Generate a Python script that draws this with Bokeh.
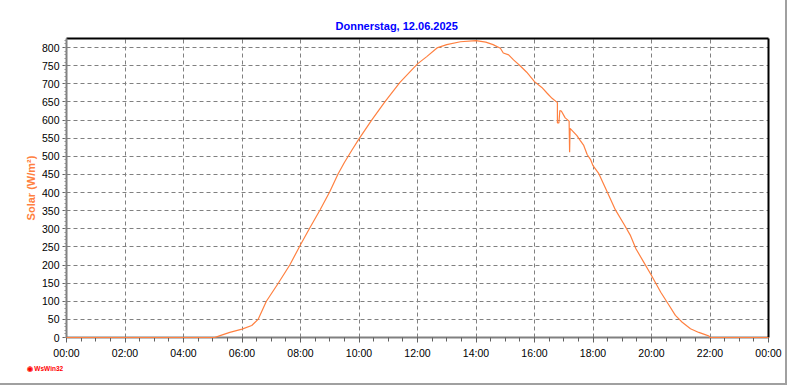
from bokeh.plotting import figure
from bokeh.models import Range1d, FixedTicker, Title, LinearAxis
from bokeh.embed import file_html
from bokeh.resources import INLINE

# ---- data ----
times = ["00:00", "05:04", "05:15", "05:35", "06:00", "06:20", "06:33", "06:50",
         "07:15", "07:38", "08:00", "08:19", "08:40", "09:00", "09:17", "09:30",
         "09:45", "10:00", "10:26", "10:53", "11:24", "12:00", "12:19", "12:40",
         "13:00", "13:28", "14:00", "14:20", "14:35", "14:50", "14:56", "15:07",
         "15:17", "15:31", "15:44", "16:00", "16:15", "16:26", "16:36", "16:47",
         "16:47", "16:50", "16:52", "16:55", "17:03", "17:11", "17:12", "17:13",
         "17:27", "17:34", "17:41", "17:48", "17:55", "18:00", "18:12", "18:29",
         "18:46", "19:03", "19:17", "19:28", "19:44", "20:00", "20:19", "20:34",
         "20:49", "21:03", "21:20", "21:37", "21:50", "21:58", "22:00", "24:00"]
solar = [0, 0, 5, 14, 23, 33, 50, 100,
         151, 200, 256, 302, 352, 402, 451, 483,
         516, 548, 600, 650, 704, 755, 775, 799,
         808, 816, 819, 815, 808, 798, 785, 780,
         766, 749, 732, 706, 690, 674, 660, 648,
         592, 592, 626, 625, 606, 597, 511, 577,
         557, 543, 530, 505, 491, 474, 452, 402,
         352, 314, 281, 245, 208, 171, 125, 93,
         61, 42, 24, 14, 8, 4, 0, 0]

tick_hours = [0, 2, 4, 6, 8, 10, 12, 14, 16, 18, 20, 22, 24]
tick_labels = ["00:00", "02:00", "04:00", "06:00", "08:00", "10:00", "12:00",
               "14:00", "16:00", "18:00", "20:00", "22:00", "00:00"]
y_ticks = [0, 50, 100, 150, 200, 250, 300, 350, 400, 450, 500, 550, 600, 650, 700, 750, 800]
title_text = "Donnerstag, 12.06.2025"
y_label = "Solar (W/m²)"
logo_text = "\u25C9 WsWin32"


def to_hours(s):
    h, m = s.split(":")
    return int(h) + int(m) / 60.0


x = [to_hours(t) for t in times]

FONT = "Liberation Sans"
ORANGE = "#FF8040"
GRAY = "#808080"

p = figure(width=787, height=385, output_backend="svg", toolbar_location=None,
           x_range=Range1d(0, 24), y_range=Range1d(0, 825),
           min_border_left=66, min_border_right=19, min_border_top=38, min_border_bottom=48)
p.styles = {"border-right": "2px solid #a0a0a0", "border-bottom": "2px solid #a0a0a0"}
p.background_fill_color = "white"
p.border_fill_color = "white"
p.outline_line_color = None

p.title.text = title_text
p.title.align = "left"
p.title.offset = 269
p.title.text_font = FONT
p.title.text_font_size = "11px"
p.title.text_font_style = "bold"
p.title.text_color = "#0000FF"
p.title.standoff = 13

# black frame on top and right (axes without ticks or labels)
for loc in ("above", "right"):
    ax = LinearAxis(ticker=FixedTicker(ticks=[]), axis_line_color="black", axis_line_width=2,
                    major_tick_line_color=None, minor_tick_line_color=None,
                    major_label_text_font_size="0px")
    p.add_layout(ax, loc)

# x axis
xa = p.below[0]
xa.ticker = FixedTicker(ticks=tick_hours, minor_ticks=[i * 0.5 for i in range(49)])
xa.major_label_overrides = {h: lab for h, lab in zip(tick_hours, tick_labels)}
xa.axis_line_color = GRAY
xa.axis_line_width = 2
xa.major_tick_in = 0
xa.major_tick_out = 5
xa.minor_tick_in = 0
xa.minor_tick_out = 4
xa.major_tick_line_color = "#606060"
xa.minor_tick_line_color = "#606060"
xa.major_label_standoff = 4
xa.major_label_text_font = FONT
xa.major_label_text_font_size = "10.5px"
xa.major_label_text_color = "black"

# y axis
ya = p.left[0]
ya.ticker = FixedTicker(ticks=y_ticks, minor_ticks=list(range(0, 826, 10)))
ya.axis_line_color = GRAY
ya.axis_line_width = 2
ya.major_tick_in = 0
ya.major_tick_out = 4
ya.minor_tick_in = 0
ya.minor_tick_out = 2
ya.major_tick_line_color = "#606060"
ya.minor_tick_line_color = "#909090"
ya.major_label_standoff = 3
ya.major_label_text_font = FONT
ya.major_label_text_font_size = "10.5px"
ya.major_label_text_color = "black"
ya.axis_label = y_label
ya.axis_label_text_font = FONT
ya.axis_label_text_font_size = "11px"
ya.axis_label_text_font_style = "bold"
ya.axis_label_text_color = ORANGE
ya.axis_label_standoff = 2

# grids
p.xgrid.ticker = FixedTicker(ticks=tick_hours[1:])
p.ygrid.ticker = FixedTicker(ticks=y_ticks[1:])
for g in (p.xgrid, p.ygrid):
    g.grid_line_color = GRAY
    g.grid_line_dash = "4 3"
    g.grid_line_width = 1

p.line(x, solar, line_color=ORANGE, line_width=1.2, level="overlay")

# logo below the axis
logo = Title(text=logo_text, align="left", offset=-40, text_font=FONT, text_font_size="6.5px",
             text_font_style="bold", text_color="red", standoff=2)
p.add_layout(logo, "below")

open("out.html", "w").write(file_html(p, INLINE))
